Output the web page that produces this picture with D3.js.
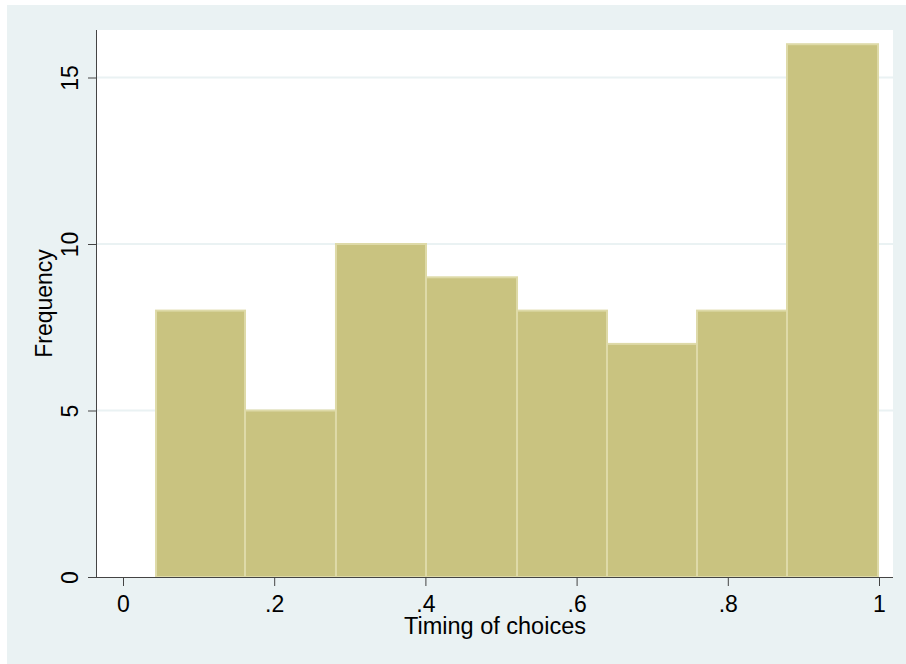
<html lang="en">
    <head>
        <meta charset="utf-8">
        <title>Timing of choices</title>
        <script type="text/javascript" src="https://d3js.org/d3.v7.min.js"></script>
        <style>
            body { margin: 0; background: #ffffff; }
            text { font-family: "Liberation Sans", Arial, sans-serif; fill: #000000; }
        </style>
    </head>
    <body>
        <div id="chart"></div>
        <script type="text/javascript">
            // histogram data
            const binEdges = [0.0437, 0.1614, 0.2817, 0.4008, 0.5212, 0.6402, 0.7593, 0.8783, 0.9987];
            const frequencies = [8, 5, 10, 9, 8, 7, 8, 16];
            const xTicks = [0, 0.2, 0.4, 0.6, 0.8, 1];
            const xTickLabels = ["0", ".2", ".4", ".6", ".8", "1"];
            const yTicks = [0, 5, 10, 15];
            const yTickLabels = ["0", "5", "10", "15"];
            const xTitle = "Timing of choices";
            const yTitle = "Frequency";

            const width = 906, height = 664;
            const plot = {'left': 97, 'right': 893, 'top': 30, 'bottom': 577};

            const svg = d3.select("#chart").append("svg").attr("width", width).attr("height", height);
            const xScale = d3.scaleLinear().domain([0, 1]).range([123, 879]);
            const yScale = d3.scaleLinear().domain([0, 15]).range([plot.bottom, 77.5]);

            // outer panel and plot region
            svg.append("rect").attr("x", 7).attr("y", 5).attr("width", width - 7).attr("height", height - 5)
                .attr("fill", "#EAF2F3");
            svg.append("rect").attr("x", plot.left).attr("y", plot.top)
                .attr("width", plot.right - plot.left).attr("height", plot.bottom - plot.top)
                .attr("fill", "#ffffff");

            // horizontal grid lines
            svg.append("g").selectAll("line").data(yTicks.filter(d => d > 0)).join("line")
                .attr("x1", plot.left).attr("x2", plot.right)
                .attr("y1", d => yScale(d)).attr("y2", d => yScale(d))
                .attr("stroke", "#EAF2F3").attr("stroke-width", 2);

            // bars
            const bins = frequencies.map((f, i) => ({x0: binEdges[i], x1: binEdges[i + 1], n: f}));
            svg.append("g").selectAll("rect").data(bins).join("rect")
                .attr("x", d => xScale(d.x0)).attr("width", d => xScale(d.x1) - xScale(d.x0))
                .attr("y", d => yScale(d.n)).attr("height", d => yScale(0) - yScale(d.n))
                .attr("fill", "#C9C380").attr("stroke", "#DEDAA8").attr("stroke-width", 2);

            // axes
            const xAxis = svg.append("g").attr("transform", `translate(0,${plot.bottom})`)
                .call(d3.axisBottom(xScale).tickValues(xTicks).tickFormat((d, i) => xTickLabels[i])
                    .tickSize(9).tickPadding(4));
            xAxis.select(".domain").attr("d", `M${plot.left},0.5H${plot.right}`).attr("stroke", "#444");
            xAxis.selectAll(".tick line").attr("stroke", "#444");
            xAxis.selectAll(".tick text").attr("font-size", "23px").attr("dy", null).attr("y", 35)
                .style("font-family", '"Liberation Sans", Arial, sans-serif');

            const yAxis = svg.append("g").attr("transform", `translate(${plot.left},0)`)
                .call(d3.axisLeft(yScale).tickValues(yTicks).tickFormat((d, i) => yTickLabels[i])
                    .tickSize(9));
            yAxis.select(".domain").attr("d", `M-0.5,${plot.top}V${plot.bottom}`).attr("stroke", "#444");
            yAxis.selectAll(".tick line").attr("stroke", "#444");
            yAxis.selectAll(".tick text").attr("font-size", "23px")
                .attr("x", null).attr("dy", null).attr("text-anchor", "middle")
                .attr("transform", "translate(-19,0) rotate(-90)")
                .style("font-family", '"Liberation Sans", Arial, sans-serif');

            // axis titles
            svg.append("text").attr("x", (plot.left + plot.right) / 2).attr("y", 634)
                .attr("text-anchor", "middle").attr("font-size", "23.5px").text(xTitle);
            svg.append("text").attr("transform", `translate(52,${(plot.top + plot.bottom) / 2}) rotate(-90)`)
                .attr("text-anchor", "middle").attr("font-size", "23px").text(yTitle);
        </script>
    </body>
</html>
